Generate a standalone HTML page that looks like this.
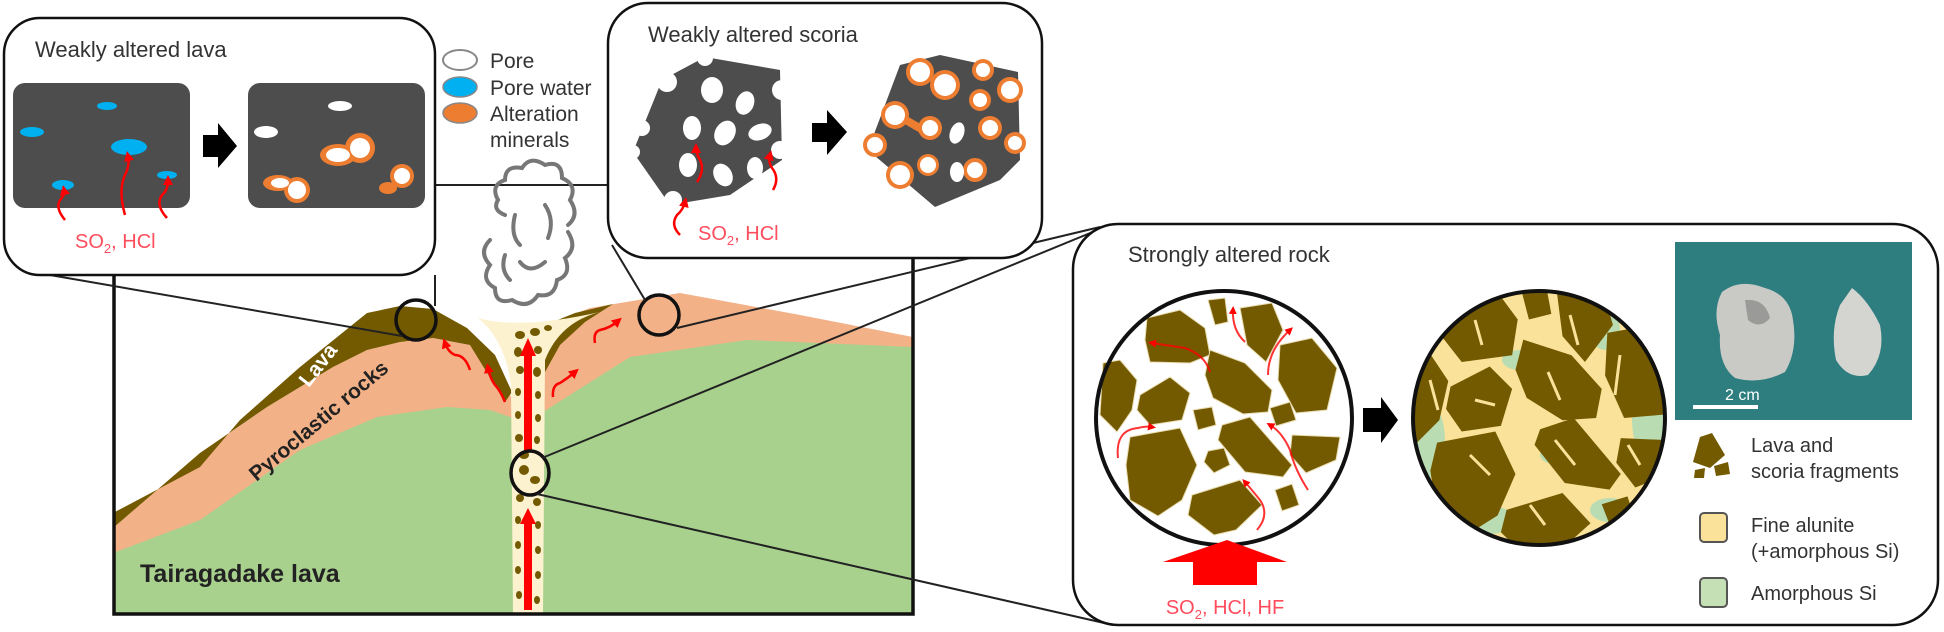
<!DOCTYPE html>
<html><head><meta charset="utf-8"><style>
html,body{margin:0;padding:0;background:#fff;}
svg{display:block;font-family:"Liberation Sans",sans-serif;}
</style></head><body>
<svg width="1944" height="632" viewBox="0 0 1944 632" xmlns="http://www.w3.org/2000/svg">
<defs>
<marker id="ah" viewBox="0 0 10 10" refX="5" refY="5" markerWidth="4" markerHeight="4" orient="auto"><path d="M0,0 L10,5 L0,10 z" fill="#f00"/></marker>
</defs>
<rect width="1944" height="632" fill="#fff"/>

<polygon fill="#f2b187" points="113,528 200,453 267,407 333,367 367,350 400,342 433,338 470,345 495,370 513,400 543,400 545,325 590,308 680,293 800,315 913,337 913,614 113,614"/>
<polygon fill="#a9d18e" points="113,553 200,520 300,450 377,417 447,407 490,410 513,418 543,412 630,357 747,340 913,347 913,614 113,614"/>
<polygon fill="#735a00" points="113,513 200,467 240,420 300,367 367,313 400,306 433,309 467,328 495,355 512,392 505,402 470,345 433,338 400,342 367,350 333,367 267,407 200,453 113,528"/>
<polygon fill="#735a00" points="545,372 545,325 575,313 613,304 585,322 560,345"/>
<path fill="#fdf2cf" d="M478,318 Q520,330 600,312 Q560,322 545,360 L543,614 L513,614 L511,385 Q505,340 478,318 Z"/>
<g fill="#735a00">
<ellipse cx="520" cy="335" rx="5" ry="4"/><ellipse cx="535" cy="332" rx="5" ry="4"/><ellipse cx="548" cy="328" rx="4" ry="3"/>
<ellipse cx="518" cy="352" rx="4" ry="5"/><ellipse cx="538" cy="350" rx="4" ry="4"/><ellipse cx="520" cy="370" rx="4" ry="4"/>
<ellipse cx="537" cy="372" rx="4" ry="5"/><ellipse cx="518" cy="392" rx="3" ry="4"/><ellipse cx="538" cy="395" rx="3" ry="4"/>
<ellipse cx="518" cy="415" rx="3" ry="4"/><ellipse cx="538" cy="418" rx="3" ry="4"/><ellipse cx="519" cy="438" rx="4" ry="4"/>
<ellipse cx="537" cy="440" rx="3" ry="4"/><ellipse cx="524" cy="455" rx="5" ry="4"/><ellipse cx="520" cy="498" rx="4" ry="4"/>
<ellipse cx="537" cy="502" rx="4" ry="4"/><ellipse cx="518" cy="520" rx="3" ry="4"/><ellipse cx="538" cy="525" rx="3" ry="4"/>
<ellipse cx="518" cy="545" rx="3" ry="4"/><ellipse cx="538" cy="550" rx="3" ry="4"/><ellipse cx="518" cy="570" rx="3" ry="4"/>
<ellipse cx="538" cy="575" rx="3" ry="4"/><ellipse cx="519" cy="595" rx="3" ry="4"/><ellipse cx="537" cy="600" rx="3" ry="4"/>
<ellipse cx="524" cy="470" rx="5" ry="5"/><ellipse cx="535" cy="480" rx="5" ry="4"/>
</g>
<rect x="524" y="352" width="8" height="100" fill="#f00"/><polygon points="520,356 528,338 536,356" fill="#f00"/>
<rect x="524" y="520" width="8" height="90" fill="#f00"/><polygon points="520,524 528,508 536,524" fill="#f00"/>
<g fill="none" stroke="#f00" stroke-width="2.5" marker-end="url(#ah)">
<path d="M470,370 Q465,355 455,355 Q448,352 445,343"/>
<path d="M505,402 Q500,390 495,385 Q490,378 488,368"/>
<path d="M553,397 Q552,385 560,383 Q568,378 575,372"/>
<path d="M595,343 Q593,332 600,330 Q610,328 618,321"/>
</g>
<text x="318" y="372" transform="rotate(-52 318 365)" font-size="21" font-weight="bold" fill="#fff" text-anchor="middle">Lava</text>
<text x="318" y="428" transform="rotate(-40 318 420)" font-size="21" font-weight="bold" fill="#222" text-anchor="middle">Pyroclastic rocks</text>
<text x="140" y="582" font-size="25" font-weight="bold" fill="#222">Tairagadake lava</text>
<path d="M114,275 L114,614 L913,614 L913,258" fill="none" stroke="#111" stroke-width="3.5"/>
<circle cx="416" cy="320" r="20" fill="none" stroke="#111" stroke-width="3.5"/>
<circle cx="659" cy="315" r="20" fill="none" stroke="#111" stroke-width="3.5"/>
<ellipse cx="530" cy="473" rx="19" ry="22" fill="none" stroke="#111" stroke-width="3.5"/>
<g stroke="#222" stroke-width="2" fill="none">
<line x1="50" y1="275" x2="402" y2="336"/>
<line x1="435" y1="275" x2="435" y2="306"/>
<line x1="435" y1="185" x2="608" y2="185"/>
<line x1="612" y1="245" x2="645" y2="300"/>
<line x1="677" y1="328" x2="1100" y2="227"/>
<line x1="542" y1="458" x2="1100" y2="229"/>
<line x1="537" y1="494" x2="1113" y2="625"/>
</g>
<g fill="none" stroke="#777" stroke-width="4" stroke-linecap="round">
<path d="M505,215 Q492,210 498,200 Q490,185 505,180 Q505,165 522,168 Q530,155 545,165 Q562,160 562,178 Q578,185 570,200 Q580,215 568,225"/>
<path d="M568,232 Q578,248 565,258 Q572,275 557,280 Q555,298 538,295 Q528,310 512,300 Q495,305 495,288 Q480,280 490,265 Q478,252 490,240"/>
<path d="M515,215 Q510,235 520,245"/><path d="M545,205 Q555,220 548,238"/>
<path d="M520,262 Q530,275 545,262"/><path d="M505,255 Q500,270 510,280"/>
</g>

<rect x="4" y="18" width="431" height="257" rx="36" fill="#fff" stroke="#111" stroke-width="2.5"/>
<text x="35" y="57" font-size="22" fill="#333">Weakly altered lava</text>
<rect x="13" y="83" width="177" height="125" rx="12" fill="#4d4d4d"/>
<rect x="248" y="83" width="177" height="125" rx="12" fill="#4d4d4d"/>
<g fill="#00b0f0">
<ellipse cx="107" cy="106" rx="10" ry="4"/><ellipse cx="32" cy="132" rx="12" ry="5"/>
<ellipse cx="129" cy="147" rx="18" ry="8"/><ellipse cx="63" cy="185" rx="11" ry="5"/><ellipse cx="167" cy="175" rx="10" ry="4"/>
</g>
<g fill="none" stroke="#f00" stroke-width="2.5" marker-end="url(#ah)">
<path d="M65,220 Q55,208 60,200 Q65,195 64,190"/>
<path d="M125,215 Q118,190 125,175 Q130,165 128,156"/>
<path d="M167,218 Q155,205 162,195 Q168,190 168,180"/>
</g>
<text x="75" y="248" font-size="20" fill="#ff4d5e">SO<tspan font-size="13" dy="5">2</tspan><tspan dy="-5">, HCl</tspan></text>
<polygon points="203,135 218,135 218,123 237,146 218,168 218,157 203,157" fill="#000"/>
<g>
<ellipse cx="340" cy="106" rx="12" ry="5" fill="#fff"/><ellipse cx="266" cy="132" rx="12" ry="6" fill="#fff"/>
<circle cx="360" cy="148" r="15" fill="#ed7d31"/><ellipse cx="338" cy="155" rx="18" ry="11" fill="#ed7d31"/>
<circle cx="360" cy="148" r="10" fill="#fff"/><ellipse cx="338" cy="155" rx="12" ry="7" fill="#fff"/>
<circle cx="297" cy="190" r="13" fill="#ed7d31"/><ellipse cx="278" cy="183" rx="15" ry="8" fill="#ed7d31"/>
<circle cx="297" cy="190" r="9" fill="#fff"/><ellipse cx="280" cy="183" rx="9" ry="5" fill="#fff"/>
<circle cx="402" cy="176" r="12" fill="#ed7d31"/><ellipse cx="388" cy="188" rx="9" ry="6" fill="#ed7d31"/>
<circle cx="402" cy="176" r="8" fill="#fff"/>
</g>

<ellipse cx="460" cy="60" rx="17" ry="10" fill="#fff" stroke="#888" stroke-width="2"/>
<ellipse cx="460" cy="87" rx="17" ry="10" fill="#00b0f0" stroke="#888" stroke-width="1.5"/>
<ellipse cx="460" cy="113" rx="17" ry="10" fill="#ed7d31" stroke="#888" stroke-width="1.5"/>
<g font-size="21" fill="#333">
<text x="490" y="68">Pore</text><text x="490" y="95">Pore water</text>
<text x="490" y="121">Alteration</text><text x="490" y="147">minerals</text>
</g>

<rect x="608" y="3" width="434" height="255" rx="40" fill="#fff" stroke="#111" stroke-width="2.5"/>
<text x="648" y="42" font-size="22" fill="#333">Weakly altered scoria</text>
<polygon points="662,80 705,57 780,70 782,160 730,195 670,205 633,152" fill="#4d4d4d"/>
<g fill="#fff">
<circle cx="667" cy="82" r="10"/><circle cx="642" cy="128" r="8"/><circle cx="633" cy="152" r="7"/>
<circle cx="673" cy="200" r="9"/><circle cx="782" cy="90" r="10"/><circle cx="780" cy="150" r="9"/><circle cx="705" cy="58" r="8"/>
<ellipse cx="712" cy="90" rx="11" ry="13"/><ellipse cx="745" cy="103" rx="9" ry="12" transform="rotate(20 745 103)"/>
<ellipse cx="692" cy="128" rx="9" ry="12"/><ellipse cx="725" cy="133" rx="10" ry="13" transform="rotate(30 725 133)"/>
<ellipse cx="760" cy="132" rx="12" ry="8" transform="rotate(-20 760 132)"/><ellipse cx="688" cy="165" rx="9" ry="12"/>
<ellipse cx="723" cy="175" rx="9" ry="12" transform="rotate(-30 723 175)"/><ellipse cx="755" cy="168" rx="8" ry="11"/>
</g>
<g fill="none" stroke="#f00" stroke-width="2.5" marker-end="url(#ah)">
<path d="M697,182 Q705,170 700,160 Q696,153 696,148"/>
<path d="M773,190 Q780,178 772,168 Q768,162 770,155"/>
<path d="M680,235 Q670,225 677,215 Q683,210 685,202"/>
</g>
<text x="698" y="240" font-size="20" fill="#ff4d5e">SO<tspan font-size="13" dy="5">2</tspan><tspan dy="-5">, HCl</tspan></text>
<polygon points="812,123 827,123 827,110 847,132 827,155 827,142 812,142" fill="#000"/>
<polygon points="900,65 940,55 1018,72 1020,160 1000,180 935,207 868,150" fill="#4d4d4d"/>
<g fill="#ed7d31">
<circle cx="920" cy="72" r="14"/><circle cx="945" cy="85" r="15"/><circle cx="983" cy="70" r="11"/><circle cx="1010" cy="90" r="13"/>
<circle cx="895" cy="115" r="14"/><circle cx="930" cy="128" r="12"/><circle cx="980" cy="100" r="11"/><circle cx="990" cy="128" r="12"/>
<circle cx="875" cy="145" r="12"/><circle cx="900" cy="175" r="14"/><circle cx="928" cy="165" r="11"/><circle cx="975" cy="170" r="12"/><circle cx="1015" cy="143" r="11"/>
<rect x="905" y="115" width="30" height="8" transform="rotate(30 905 115)"/>
</g>
<g fill="#fff">
<circle cx="920" cy="72" r="10"/><circle cx="945" cy="85" r="11"/><circle cx="983" cy="70" r="7"/><circle cx="1010" cy="90" r="9"/>
<circle cx="895" cy="115" r="10"/><circle cx="930" cy="128" r="8"/><circle cx="980" cy="100" r="7"/><circle cx="990" cy="128" r="8"/>
<circle cx="875" cy="145" r="8"/><circle cx="900" cy="175" r="10"/><circle cx="928" cy="165" r="8"/><circle cx="975" cy="170" r="8"/><circle cx="1015" cy="143" r="7"/>
<ellipse cx="957" cy="133" rx="7" ry="11" transform="rotate(20 957 133)"/><ellipse cx="957" cy="172" rx="7" ry="10"/>
</g>

<rect x="1073" y="224" width="865" height="401" rx="45" fill="#fff" stroke="#111" stroke-width="2.5"/>
<text x="1128" y="262" font-size="22" fill="#333">Strongly altered rock</text>
<ellipse cx="1224" cy="418" rx="128" ry="127" fill="#fff"/>
<g fill="#735a00" stroke="#e8dcb0" stroke-width="1">
<polygon points="1147,318 1180,310 1205,328 1210,355 1190,363 1150,362 1145,340"/>
<polygon points="1208,300 1225,298 1228,322 1215,325"/>
<polygon points="1240,308 1272,303 1283,330 1266,362 1247,345"/>
<polygon points="1103,363 1120,360 1137,380 1132,410 1117,432 1100,415"/>
<polygon points="1140,395 1170,377 1190,393 1182,420 1150,425 1137,410"/>
<polygon points="1210,350 1245,363 1272,390 1268,412 1243,414 1213,398 1205,375"/>
<polygon points="1280,345 1312,338 1337,368 1327,410 1296,413 1278,380"/>
<polygon points="1193,410 1212,407 1216,425 1198,430"/>
<polygon points="1270,408 1290,402 1296,420 1276,426"/>
<polygon points="1130,437 1180,428 1197,465 1182,500 1158,516 1130,500 1126,465"/>
<polygon points="1222,425 1250,417 1292,465 1283,477 1245,472 1218,440"/>
<polygon points="1292,435 1340,437 1336,460 1306,473 1290,455"/>
<polygon points="1208,451 1224,448 1230,465 1214,473 1204,462"/>
<polygon points="1192,495 1240,480 1262,505 1236,530 1214,535 1188,515"/>
<polygon points="1275,490 1292,484 1299,505 1282,511"/>
</g>
<g fill="none" stroke="#f00" stroke-width="2" marker-end="url(#ah)" stroke-opacity="0.8">
<path d="M1245,342 Q1232,330 1233,310"/>
<path d="M1268,375 Q1268,350 1290,330"/>
<path d="M1210,372 Q1205,355 1185,348 Q1165,345 1152,343"/>
<path d="M1118,458 Q1115,430 1138,428 Q1145,426 1152,427"/>
<path d="M1308,490 Q1295,470 1290,450 Q1282,432 1270,425"/>
<path d="M1257,530 Q1270,515 1260,500 Q1252,490 1245,482"/>
</g>
<ellipse cx="1224" cy="418" rx="128" ry="127" fill="none" stroke="#111" stroke-width="4"/>
<polygon points="1227,540 1287,562 1257,562 1257,585 1193,585 1193,562 1163,562" fill="#f00"/>
<text x="1225" y="614" font-size="20" fill="#ff4d5e" text-anchor="middle">SO<tspan font-size="13" dy="5">2</tspan><tspan dy="-5">, HCl, HF</tspan></text>
<polygon points="1363,408 1381,408 1381,397 1398,420 1381,443 1381,432 1363,432" fill="#000"/>
<clipPath id="rc"><ellipse cx="1539" cy="418" rx="126" ry="127"/></clipPath>
<g clip-path="url(#rc)">
<rect x="1410" y="290" width="260" height="260" fill="#fbe29a"/>
<g fill="#b9dcb3">
<ellipse cx="1425" cy="440" rx="20" ry="40"/><ellipse cx="1520" cy="360" rx="18" ry="10"/>
<ellipse cx="1605" cy="330" rx="15" ry="20"/><ellipse cx="1650" cy="420" rx="18" ry="40"/>
<ellipse cx="1560" cy="455" rx="20" ry="10"/><ellipse cx="1490" cy="520" rx="25" ry="14"/><ellipse cx="1610" cy="510" rx="20" ry="12"/>
</g>
<g fill="#735a00" transform="translate(1539 418) scale(1.12) translate(-1539 -418)">
<polygon points="1455,313 1500,303 1520,330 1515,362 1470,368 1452,345"/>
<polygon points="1523,303 1545,298 1550,325 1530,330"/>
<polygon points="1555,306 1595,300 1605,335 1580,368 1560,345"/>
<polygon points="1418,362 1440,358 1458,385 1450,420 1430,440 1414,410"/>
<polygon points="1460,390 1495,372 1515,392 1505,425 1470,430 1456,410"/>
<polygon points="1525,348 1568,362 1595,392 1590,418 1560,420 1528,400 1518,375"/>
<polygon points="1600,342 1640,335 1660,370 1650,415 1615,418 1598,380"/>
<polygon points="1448,440 1500,430 1518,468 1502,505 1475,522 1448,505 1442,465"/>
<polygon points="1540,428 1570,418 1612,468 1602,482 1562,476 1535,442"/>
<polygon points="1612,436 1660,438 1656,468 1625,480 1608,458"/>
<polygon points="1510,500 1560,485 1585,512 1556,538 1530,545 1505,520"/>
<polygon points="1595,495 1618,488 1626,512 1604,518"/>
</g>
<g stroke="#fbe29a" stroke-width="3" fill="none">
<path d="M1475,320 L1482,345"/><path d="M1570,315 L1578,345"/><path d="M1430,380 L1438,410"/>
<path d="M1548,372 L1560,400"/><path d="M1620,355 L1615,395"/><path d="M1470,455 L1490,475"/>
<path d="M1555,440 L1575,465"/><path d="M1530,505 L1545,525"/><path d="M1628,445 L1640,465"/><path d="M1475,400 L1495,405"/>
</g>
</g>
<ellipse cx="1539" cy="418" rx="126" ry="127" fill="none" stroke="#111" stroke-width="4"/>
<rect x="1675" y="242" width="237" height="178" fill="#2e7d7f"/>
<path d="M1722,292 Q1740,278 1765,288 Q1790,295 1793,320 Q1798,350 1785,372 Q1760,385 1735,378 Q1718,365 1720,335 Q1712,310 1722,292 Z" fill="#c9c9c6"/>
<path d="M1745,300 Q1765,298 1770,318 Q1760,330 1748,320 Z" fill="#9a9a98"/>
<path d="M1852,288 Q1868,300 1880,325 Q1886,355 1868,375 Q1848,380 1836,360 Q1830,330 1840,305 Z" fill="#d4d4d0"/>
<text x="1725" y="400" font-size="16" fill="#fff">2 cm</text>
<rect x="1693" y="405" width="65" height="4" fill="#fff"/>
<polygon points="1700,437 1712,433 1725,455 1710,468 1693,462" fill="#735a00"/>
<polygon points="1714,466 1728,462 1730,474 1716,476" fill="#735a00"/>
<polygon points="1695,470 1705,468 1704,478 1694,478" fill="#735a00"/>
<g font-size="20" fill="#333">
<text x="1751" y="452">Lava and</text><text x="1751" y="478">scoria fragments</text>
<text x="1751" y="532">Fine alunite</text><text x="1751" y="558">(+amorphous Si)</text>
<text x="1751" y="600">Amorphous Si</text>
</g>
<rect x="1700" y="513" width="27" height="29" rx="4" fill="#fbe29a" stroke="#555" stroke-width="2"/>
<rect x="1700" y="578" width="27" height="29" rx="4" fill="#c5e0b4" stroke="#555" stroke-width="2"/>
</svg>
</body></html>
